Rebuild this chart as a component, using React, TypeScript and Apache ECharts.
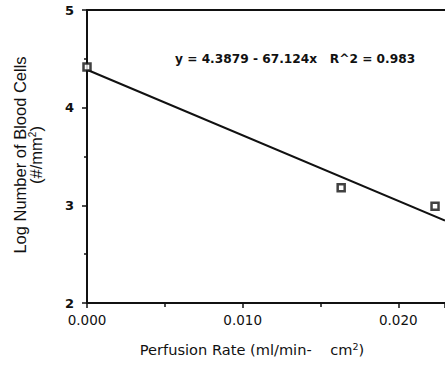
import React, { useEffect, useRef } from "react";
import * as echarts from "echarts";

const perfusionRate = [0.0, 0.01633, 0.02236];
const logBloodCells = [4.417, 3.18, 2.99];
const fitX = [0.0, 0.023];
const fitY = [4.388, 2.844];
const xTicks = ["0.000", "0.010", "0.020"];
const yTicks = ["2", "3", "4", "5"];
const equationText = "y = 4.3879 - 67.124x   R^2 = 0.983";

export default function App() {
  const ref = useRef<HTMLDivElement>(null);
  useEffect(() => {
    if (!ref.current) return;
    const chart = echarts.init(ref.current, undefined, { renderer: "svg" });
    const helv = "Liberation Sans, Arial, sans-serif";
    const wide = "DejaVu Sans, Verdana, sans-serif";
    chart.setOption({
      animation: false,
      backgroundColor: "#ffffff",
      grid: { left: 87, top: 10, right: 0, bottom: 63 },
      xAxis: [
        {
          type: "value",
          min: 0,
          max: 0.023,
          interval: 0.01,
          axisLine: { show: true, lineStyle: { color: "#111", width: 2 } },
          axisTick: { show: true, length: 5, lineStyle: { color: "#111", width: 1.5 } },
          minorTick: { show: true, splitNumber: 2, length: 4, lineStyle: { color: "#111", width: 1.5 } },
          splitLine: { show: false },
          axisLabel: {
            showMaxLabel: false,
            color: "#111",
            fontFamily: wide,
            fontSize: 13.5,
            margin: 10,
            formatter: (v: number) => {
              const s = v.toFixed(3);
              return xTicks.indexOf(s) >= 0 ? s : "";
            },
          },
        },
        {
          type: "value",
          position: "top",
          min: 0,
          max: 0.023,
          axisLine: { show: true, onZero: false, lineStyle: { color: "#111", width: 2 } },
          axisTick: { show: false },
          axisLabel: { show: false },
          splitLine: { show: false },
        },
      ],
      yAxis: {
        type: "value",
        min: 2,
        max: 5,
        interval: 1,
        axisLine: { show: true, lineStyle: { color: "#111", width: 2 } },
        axisTick: { show: true, length: 5, lineStyle: { color: "#111", width: 1.5 } },
        minorTick: { show: true, splitNumber: 2, length: 3, lineStyle: { color: "#111", width: 1.5 } },
        splitLine: { show: false },
        axisLabel: {
          color: "#111",
          fontFamily: wide,
          fontSize: 13,
          fontWeight: "bold",
          margin: 13,
          formatter: (v: number) => {
            const s = String(Math.round(v));
            return yTicks.indexOf(s) >= 0 ? s : "";
          },
        },
      },
      graphic: [
        {
          type: "text",
          x: 175,
          y: 59,
          style: {
            text: equationText,
            verticalAlign: "middle",
            fontFamily: wide,
            fontSize: 12.2,
            fontWeight: "bold",
            fill: "#111",
          },
        },
        {
          type: "text",
          x: 252,
          y: 349,
          style: {
            text: "{a|Perfusion Rate (ml/min-    cm}{s|2}{a|)}",
            align: "center",
            verticalAlign: "middle",
            rich: {
              a: { fontFamily: wide, fontSize: 14.6, fill: "#111" },
              s: { fontFamily: wide, fontSize: 9.5, fill: "#111", verticalAlign: "top" },
            },
          },
        },
        {
          type: "text",
          x: 19.5,
          y: 155,
          rotation: Math.PI / 2,
          style: {
            text: "Log Number of Blood Cells",
            align: "center",
            verticalAlign: "middle",
            fontFamily: helv,
            fontSize: 16.5,
            fill: "#111",
          },
        },
        {
          type: "text",
          x: 35.5,
          y: 155,
          rotation: Math.PI / 2,
          style: {
            text: "{a|(#/mm}{s|2}{a|)}",
            align: "center",
            verticalAlign: "middle",
            rich: {
              a: { fontFamily: helv, fontSize: 16.5, fill: "#111" },
              s: { fontFamily: helv, fontSize: 10, fill: "#111", verticalAlign: "top" },
            },
          },
        },
      ],
      series: [
        {
          type: "line",
          data: fitX.map((x, i) => [x, fitY[i]]),
          symbol: "none",
          lineStyle: { color: "#111", width: 2 },
          silent: true,
          z: 2,
        },
        {
          type: "scatter",
          data: perfusionRate.map((x, i) => [x, logBloodCells[i]]),
          symbol: "rect",
          symbolSize: 7,
          itemStyle: { color: "#ffffff", borderColor: "#111", borderWidth: 2.5 },
          z: 3,
        },
      ],
    });
    return () => chart.dispose();
  }, []);
  return (
    <div
      ref={ref}
      style={{ position: "fixed", left: 0, top: 0, width: 445, height: 366, background: "#fff" }}
    />
  );
}
